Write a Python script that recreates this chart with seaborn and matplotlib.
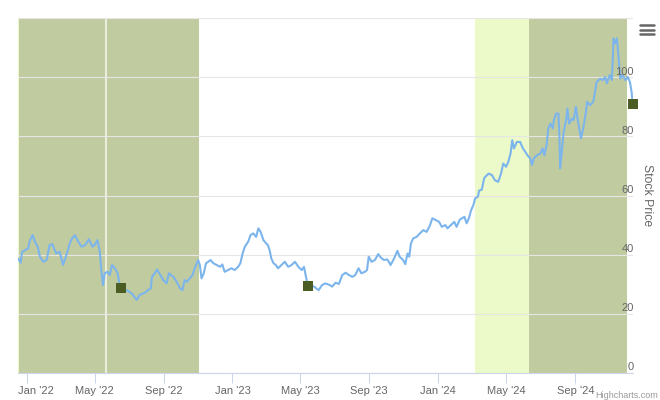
import matplotlib
matplotlib.use('Agg')
import matplotlib.pyplot as plt
import matplotlib.transforms as mtransforms
from matplotlib.lines import Line2D
import seaborn as sns
import pandas as pd

dates = [
    '2021-12-16', '2021-12-21', '2021-12-23', '2021-12-28', '2022-01-03', '2022-01-06', '2022-01-11',
    '2022-01-15', '2022-01-20', '2022-01-24', '2022-01-30', '2022-02-05', '2022-02-10', '2022-02-15',
    '2022-02-18', '2022-02-22', '2022-02-28', '2022-03-06', '2022-03-12', '2022-03-18', '2022-03-22',
    '2022-03-27', '2022-04-02', '2022-04-08', '2022-04-14', '2022-04-21', '2022-04-27', '2022-05-01',
    '2022-05-06', '2022-05-10', '2022-05-13', '2022-05-16', '2022-05-19', '2022-05-24', '2022-05-28',
    '2022-06-01', '2022-06-06', '2022-06-11', '2022-06-15', '2022-06-17', '2022-06-27', '2022-07-06',
    '2022-07-15', '2022-07-20', '2022-07-29', '2022-08-04', '2022-08-09', '2022-08-11', '2022-08-16',
    '2022-08-20', '2022-08-25', '2022-08-31', '2022-09-06', '2022-09-10', '2022-09-18', '2022-09-24',
    '2022-09-30', '2022-10-04', '2022-10-08', '2022-10-12', '2022-10-17', '2022-10-22', '2022-10-26',
    '2022-11-01', '2022-11-04', '2022-11-07', '2022-11-11', '2022-11-15', '2022-11-19', '2022-11-23',
    '2022-11-28', '2022-12-04', '2022-12-10', '2022-12-14', '2022-12-18', '2022-12-24', '2022-12-30',
    '2023-01-05', '2023-01-11', '2023-01-15', '2023-01-19', '2023-01-23', '2023-01-29', '2023-02-02',
    '2023-02-07', '2023-02-12', '2023-02-16', '2023-02-20', '2023-02-25', '2023-03-02', '2023-03-05',
    '2023-03-08', '2023-03-11', '2023-03-15', '2023-03-19', '2023-03-23', '2023-03-29', '2023-04-04',
    '2023-04-10', '2023-04-16', '2023-04-22', '2023-04-28', '2023-05-04', '2023-05-08', '2023-05-11',
    '2023-05-14', '2023-05-15', '2023-05-19', '2023-05-26', '2023-06-03', '2023-06-09', '2023-06-15',
    '2023-06-23', '2023-06-27', '2023-07-03', '2023-07-09', '2023-07-15', '2023-07-21', '2023-07-27',
    '2023-08-02', '2023-08-07', '2023-08-13', '2023-08-18', '2023-08-24', '2023-08-28', '2023-08-31',
    '2023-09-05', '2023-09-11', '2023-09-17', '2023-09-21', '2023-09-27', '2023-10-03', '2023-10-09',
    '2023-10-15', '2023-10-21', '2023-10-25', '2023-10-31', '2023-11-04', '2023-11-08', '2023-11-11',
    '2023-11-14', '2023-11-18', '2023-11-24', '2023-11-30', '2023-12-06', '2023-12-12', '2023-12-18',
    '2023-12-22', '2023-12-28', '2024-01-03', '2024-01-08', '2024-01-14', '2024-01-18', '2024-01-24',
    '2024-01-30', '2024-02-03', '2024-02-09', '2024-02-13', '2024-02-17', '2024-02-21', '2024-02-25',
    '2024-02-29', '2024-03-04', '2024-03-07', '2024-03-12', '2024-03-14', '2024-03-19', '2024-03-23',
    '2024-03-25', '2024-03-31', '2024-04-06', '2024-04-11', '2024-04-17', '2024-04-22', '2024-04-26',
    '2024-05-01', '2024-05-05', '2024-05-09', '2024-05-12', '2024-05-15', '2024-05-20', '2024-05-26',
    '2024-05-31', '2024-06-04', '2024-06-08', '2024-06-13', '2024-06-16', '2024-06-19', '2024-06-25',
    '2024-07-01', '2024-07-05', '2024-07-08', '2024-07-12', '2024-07-15', '2024-07-19', '2024-07-23',
    '2024-07-25', '2024-07-29', '2024-08-02', '2024-08-04', '2024-08-05', '2024-08-08', '2024-08-11',
    '2024-08-16', '2024-08-18', '2024-08-21', '2024-08-26', '2024-08-29', '2024-09-02', '2024-09-05',
    '2024-09-08', '2024-09-11', '2024-09-15', '2024-09-20', '2024-09-22', '2024-09-27', '2024-10-03',
    '2024-10-06', '2024-10-09', '2024-10-15', '2024-10-20', '2024-10-24', '2024-10-27', '2024-11-01',
    '2024-11-05', '2024-11-08', '2024-11-11', '2024-11-14', '2024-11-17', '2024-11-20', '2024-11-24',
    '2024-11-29', '2024-12-03', '2024-12-07', '2024-12-10', '2024-12-12',
]
prices = [
    38.7, 37.3, 40.8, 41.5, 42.1, 44.7, 46.6,
    44.4, 42.7, 39.3, 37.6, 38.2, 43.2, 43.6,
    42.1, 40.4, 41.0, 36.5, 39.9, 43.8, 45.5,
    46.6, 44.4, 42.7, 43.2, 45.2, 42.7, 43.2,
    44.9, 41.5, 34.8, 29.7, 33.7, 34.2, 33.1,
    36.5, 35.4, 33.7, 29.2, 28.6, 28.0, 26.9,
    24.7, 26.4, 27.1, 28.0, 28.6, 32.5, 33.7,
    35.0, 33.4, 31.4, 30.3, 33.7, 32.5, 30.8,
    28.6, 28.0, 31.4, 30.8, 32.0, 33.1, 35.4,
    38.2, 36.5, 32.0, 33.7, 37.1, 37.6, 38.2,
    37.1, 36.5, 35.9, 36.7, 34.2, 34.8, 35.4,
    34.8, 35.9, 37.1, 40.4, 42.7, 44.4, 46.6,
    47.2, 46.0, 48.9, 47.7, 44.9, 43.8, 43.2,
    41.5, 38.7, 37.1, 36.5, 35.4, 36.5, 37.6,
    35.9, 36.5, 37.6, 35.9, 34.8, 35.9, 33.1,
    30.3, 29.3, 29.7, 29.2, 28.0, 29.7, 30.3,
    29.7, 29.2, 30.5, 30.1, 33.1, 33.9, 33.1,
    32.5, 33.1, 35.4, 33.7, 34.2, 34.8, 39.3,
    37.6, 38.2, 40.2, 39.1, 38.2, 38.4, 36.5,
    38.7, 41.3, 39.3, 38.2, 36.8, 40.4, 39.3,
    43.8, 45.5, 46.0, 47.2, 48.3, 47.7, 50.0,
    52.3, 51.7, 51.1, 49.4, 50.0, 48.9, 50.0,
    51.1, 49.4, 51.9, 52.3, 52.8, 50.6, 52.3,
    55.1, 56.8, 59.0, 59.6, 61.6, 62.0, 65.8,
    66.3, 67.4, 66.9, 65.2, 64.6, 67.4, 70.8,
    69.7, 71.4, 74.2, 78.7, 75.9, 78.1, 78.1,
    75.9, 74.8, 73.6, 72.5, 70.3, 72.5, 73.6,
    74.2, 75.9, 73.6, 77.0, 82.7, 84.3, 82.7,
    85.5, 87.7, 87.7, 79.3, 69.2, 74.8, 81.0,
    86.0, 89.4, 84.3, 86.0, 85.5, 90.0, 86.0,
    82.7, 79.3, 82.7, 88.3, 91.7, 90.5, 91.7,
    95.0, 98.4, 99.5, 99.0, 100.1, 97.9, 100.7,
    99.0, 113.1, 111.4, 113.1, 106.3, 99.5, 100.7,
    99.0, 100.1, 98.4, 95.0, 90.9,
]

flag_dates = ['2022-06-17', '2023-05-15', '2024-12-12']
flag_prices = [28.6, 29.3, 90.9]

dark_band_starts = ['2021-12-18', '2022-05-21', '2024-06-11']
dark_band_ends = ['2022-05-21', '2022-11-03', '2024-12-02']
light_band_starts = ['2021-12-01', '2024-03-07']
light_band_ends = ['2021-12-18', '2024-06-11']
band_divider = '2022-05-21 12:00'

tick_dates = ['2022-01-01', '2022-05-01', '2022-09-01', '2023-01-01', '2023-05-01',
              '2023-09-01', '2024-01-01', '2024-05-01', '2024-09-01']
tick_labels = ["Jan '22", "May '22", "Sep '22", "Jan '23", "May '23",
               "Sep '23", "Jan '24", "May '24", "Sep '24"]
y_grid = [0, 20, 40, 60, 80, 100, 120]
y_labels = ['0', '20', '40', '60', '80', '100']

sns.set_theme(style='white')
plt.rcParams['font.family'] = ['Liberation Sans', 'DejaVu Sans']

W, H = 660, 400
fig = plt.figure(figsize=(W / 100, H / 100), dpi=100)
fig.patch.set_facecolor('white')
ax = fig.add_axes([18 / W, 27 / H, 615 / W, 355 / H])
ax.set_facecolor('white')

for s, e in zip(dark_band_starts, dark_band_ends):
    ax.axvspan(pd.Timestamp(s), pd.Timestamp(e), color='#c1cba0', lw=0, zorder=0.2)
for s, e in zip(light_band_starts, light_band_ends):
    ax.axvspan(pd.Timestamp(s), pd.Timestamp(e), color='#ecf9c8', lw=0, zorder=0.2)
ax.axvline(pd.Timestamp(band_divider), color='#eceedd', lw=1.5, zorder=0.3)

df = pd.DataFrame({'date': pd.to_datetime(dates), 'price': prices})
sns.lineplot(data=df, x='date', y='price', ax=ax, color='#7cb5ec', linewidth=1.5, zorder=3)

fdf = pd.DataFrame({'date': pd.to_datetime(flag_dates), 'price': flag_prices})
sns.scatterplot(data=fdf, x='date', y='price', ax=ax, marker='s', s=52,
                color='#4b5d23', edgecolor='none', linewidth=0, zorder=4, clip_on=False)

ax.set_xlim(pd.Timestamp('2021-12-16'), pd.Timestamp('2024-12-12 12:00'))
ax.set_ylim(0, 120)
ax.set_xlabel('')
ax.set_ylabel('')

ax.set_yticks(y_grid)
ax.yaxis.grid(True, color='#e6e6e6', lw=0.8)
ax.xaxis.grid(False)
ax.set_axisbelow(True)
ax.tick_params(axis='y', left=False, right=False, labelleft=False, labelright=False)

ax.set_xticks(pd.to_datetime(tick_dates))
ax.set_xticklabels(tick_labels)
ax.tick_params(axis='x', bottom=True, length=7, width=0.75, color='#ccd6eb',
               labelcolor='#666666', labelsize=8, pad=2.5)

# Highcharts justifies the first label so it starts at the plot's left edge
first = ax.get_xticklabels()[0]
first.set_horizontalalignment('left')
first.set_transform(first.get_transform() + mtransforms.ScaledTranslation(-9 / 100, 0, fig.dpi_scale_trans))

for side in ['top', 'left', 'right']:
    ax.spines[side].set_visible(False)
ax.spines['bottom'].set_color('#ccd6eb')
ax.spines['bottom'].set_linewidth(0.8)

trans = mtransforms.blended_transform_factory(ax.transAxes, ax.transData)
trans = mtransforms.offset_copy(trans, fig=fig, x=1, y=2.5, units='dots')
for v, lab in zip(y_grid, y_labels):
    ax.text(1.0, v, lab, transform=trans, ha='right', va='baseline',
            fontsize=8, color='#666666', zorder=5)

fig.text(647 / W, 1 - 195.5 / H, 'Stock Price', rotation=270, ha='center', va='center',
         fontsize=8.8, color='#666666')

for yy in [25, 29.5, 34]:
    fig.add_artist(Line2D([640 / W, 654 / W], [1 - yy / H, 1 - yy / H], color='#666666',
                          lw=1.8, solid_capstyle='round', transform=fig.transFigure))

fig.text(658 / W, 1 - 399.5 / H, 'Highcharts.com', ha='right', va='bottom', fontsize=6.5, color='#999999')

fig.savefig('out.png', dpi=100, facecolor='white')
